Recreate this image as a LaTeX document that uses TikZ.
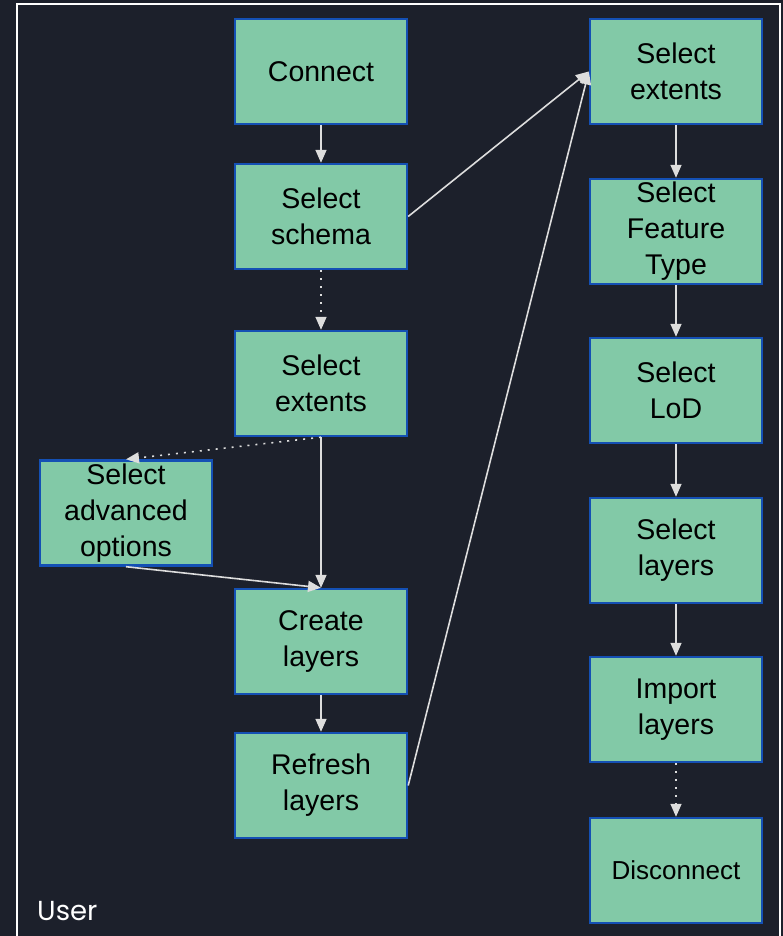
\documentclass[tikz,border=0pt]{standalone}
\usepackage{fontspec}
\setmainfont{Liberation Sans}
\newfontfamily\userfont{Poppins}
\usetikzlibrary{arrows.meta}
\definecolor{bgdark}{HTML}{1C202B}
\definecolor{boxfill}{HTML}{82C9A7}
\definecolor{boxline}{HTML}{1450B4}
\definecolor{linkgray}{HTML}{DDDDDD}
\tikzset{
  stepbox/.style={draw=boxline, line width=2.4pt, fill=boxfill, minimum width=172pt,
    minimum height=105pt, inner sep=0pt, align=center, text=black,
    font=\fontsize{28.5}{36}\selectfont},
  link/.style={draw=linkgray, line width=1.6pt, -{Triangle[length=13pt,width=11pt]}},
  dotlink/.style={link, dash pattern=on 2pt off 6pt}
}
\begin{document}
\begin{tikzpicture}[x=1pt,y=-1pt]
  \useasboundingbox (0,0) rectangle (783,936);
  \fill[bgdark] (0,0) rectangle (783,936);
  % swimlane frame
  \draw[white, line width=2pt] (17,940) -- (17,4) -- (780,4) -- (780,940);
  \node[anchor=base west, inner sep=0pt, text=white, font=\userfont\fontsize{27.5}{32}\selectfont] (lane) at (37,920) {User};

  % left column
  \node[stepbox] (connect) at (321,71.5) {Connect};
  \node[stepbox] (schema) at (321,216.5) {Select\\schema};
  \node[stepbox] (extL) at (321,383.5) {Select\\extents};
  \node[stepbox] (adv) at (126,513) {Select\\advanced\\options};
  \node[stepbox] (create) at (321,641.5) {Create\\layers};
  \node[stepbox] (refresh) at (321,785.5) {Refresh\\layers};

  % right column
  \node[stepbox] (extR) at (676,71.5) {Select\\extents};
  \node[stepbox] (feat) at (676,231.5) {Select\\Feature\\Type};
  \node[stepbox] (lod) at (676,390.5) {Select\\LoD};
  \node[stepbox] (layers) at (676,550.5) {Select\\layers};
  \node[stepbox] (import) at (676,709.5) {Import\\layers};
  \node[stepbox, font=\fontsize{26}{32}\selectfont] (disc) at (676,870.5) {Disconnect};

  % connectors
  \draw[link] (connect) -- (schema);
  \draw[dotlink] (schema) -- (extL);
  \draw[link] (schema.east) -- (extR.west);
  \draw[link] (extL) -- (create);
  \draw[dotlink] (extL.south) -- (adv.north);
  \draw[link] (adv.south) -- (create.north);
  \draw[link] (create) -- (refresh);
  \draw[link] (refresh.east) -- (extR.west);
  \draw[link] (extR) -- (feat);
  \draw[link] (feat) -- (lod);
  \draw[link] (lod) -- (layers);
  \draw[link] (layers) -- (import);
  \draw[dotlink] (import) -- (disc);
\end{tikzpicture}
\end{document}
